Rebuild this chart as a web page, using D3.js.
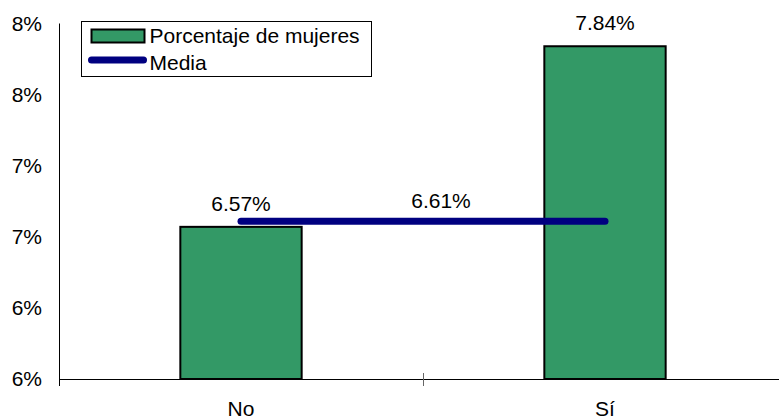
<!DOCTYPE html>
<html>
<head>
<meta charset="utf-8">
<script src="https://cdn.jsdelivr.net/npm/d3@7"></script>
<style>
  html, body { margin: 0; padding: 0; background: #fff; }
  svg { display: block; font-family: "Liberation Sans", Arial, sans-serif; }
</style>
</head>
<body>
<svg id="chart" width="779" height="419"></svg>
<script>
// Share of women by group, with the overall mean
const categories = ["No", "Sí"];
const values = [6.57, 7.84];
const meanValue = 6.61;
const yTicks = [5.5, 6.0, 6.5, 7.0, 7.5, 8.0];
const legendLabels = ["Porcentaje de mujeres", "Media"];

const W = 779, H = 419;
const plot = { left: 59, right: 787, top: 23.5, bottom: 379 };
const barColor = "#339966";
const meanColor = "#000080";
const fontSize = 21;

const svg = d3.select("#chart");

const x = d3.scaleBand()
  .domain(categories)
  .range([plot.left, plot.right])
  .paddingInner(2 / 3)
  .paddingOuter(1 / 3);

const y = d3.scaleLinear()
  .domain([5.5, 8.0])
  .range([plot.bottom, plot.top]);

const fmtTick = v => d3.format(".0f")(v) + "%";
const fmtVal = v => d3.format(".2f")(v) + "%";

// Y axis: line only, labels to the left
const yAxis = d3.axisLeft(y)
  .tickValues(yTicks)
  .tickFormat(fmtTick)
  .tickSize(0)
  .tickPadding(17);

const gy = svg.append("g")
  .attr("transform", `translate(${plot.left},0)`)
  .call(yAxis);
gy.select(".domain").remove();
gy.selectAll("text")
  .attr("font-size", fontSize)
  .attr("font-family", "Liberation Sans, Arial, sans-serif")
  .attr("fill", "#000");

svg.append("line")
  .attr("x1", plot.left + 0.5).attr("x2", plot.left + 0.5)
  .attr("y1", plot.top).attr("y2", plot.bottom + 7)
  .attr("stroke", "#000").attr("stroke-width", 1);

// X axis baseline
svg.append("line")
  .attr("x1", plot.left).attr("x2", W)
  .attr("y1", plot.bottom + 0.5).attr("y2", plot.bottom + 0.5)
  .attr("stroke", "#000").attr("stroke-width", 1);

// Category boundary tick marks (between bands)
const step = x.step();
const boundaries = categories.slice(1).map(c => x(c) - x.paddingInner() * step / 2 - (x.bandwidth() * 0));
svg.selectAll(".xtick")
  .data(categories.slice(1))
  .join("line")
  .attr("class", "xtick")
  .attr("x1", c => x(c) + x.bandwidth() / 2 - step / 2 + 0.5)
  .attr("x2", c => x(c) + x.bandwidth() / 2 - step / 2 + 0.5)
  .attr("y1", plot.bottom - 6)
  .attr("y2", plot.bottom + 7)
  .attr("stroke", "#666").attr("stroke-width", 1);

// Category labels
svg.selectAll(".xlab")
  .data(categories)
  .join("text")
  .attr("class", "xlab")
  .attr("x", c => x(c) + x.bandwidth() / 2)
  .attr("y", 416)
  .attr("text-anchor", "middle")
  .attr("font-size", fontSize)
  .text(c => c);

// Bars
const data = categories.map((c, i) => ({ cat: c, value: values[i] }));
svg.selectAll(".bar")
  .data(data)
  .join("rect")
  .attr("class", "bar")
  .attr("x", d => x(d.cat))
  .attr("y", d => y(d.value))
  .attr("width", x.bandwidth())
  .attr("height", d => y(5.5) - y(d.value))
  .attr("fill", barColor)
  .attr("stroke", "#000")
  .attr("stroke-width", 2);

// Bar value labels
svg.selectAll(".vlab")
  .data(data)
  .join("text")
  .attr("class", "vlab")
  .attr("x", d => x(d.cat) + x.bandwidth() / 2)
  .attr("y", d => y(d.value) - 16)
  .attr("text-anchor", "middle")
  .attr("font-size", fontSize)
  .text(d => fmtVal(d.value));

// Mean line across category centres
const meanPts = categories.map(c => [x(c) + x.bandwidth() / 2, y(meanValue)]);
svg.append("path")
  .attr("d", d3.line()(meanPts))
  .attr("stroke", meanColor)
  .attr("stroke-width", 7)
  .attr("stroke-linecap", "round")
  .attr("fill", "none");

svg.append("text")
  .attr("x", (meanPts[0][0] + meanPts[1][0]) / 2 + 18)
  .attr("y", y(meanValue) - 13)
  .attr("text-anchor", "middle")
  .attr("font-size", fontSize)
  .text(fmtVal(meanValue));

// Legend
const lg = svg.append("g").attr("transform", "translate(81.5,21.5)");
lg.append("rect")
  .attr("width", 290).attr("height", 55)
  .attr("fill", "#fff").attr("stroke", "#000").attr("stroke-width", 1);
lg.append("rect")
  .attr("x", 10).attr("y", 8)
  .attr("width", 53).attr("height", 13)
  .attr("fill", barColor).attr("stroke", "#000").attr("stroke-width", 2);
lg.append("line")
  .attr("x1", 10).attr("x2", 62)
  .attr("y1", 38.5).attr("y2", 38.5)
  .attr("stroke", meanColor).attr("stroke-width", 7)
  .attr("stroke-linecap", "round");
lg.selectAll(".ltext")
  .data(legendLabels)
  .join("text")
  .attr("class", "ltext")
  .attr("x", 68)
  .attr("y", (d, i) => 21.5 + i * 27)
  .attr("font-size", fontSize)
  .text(d => d);
</script>
</body>
</html>
